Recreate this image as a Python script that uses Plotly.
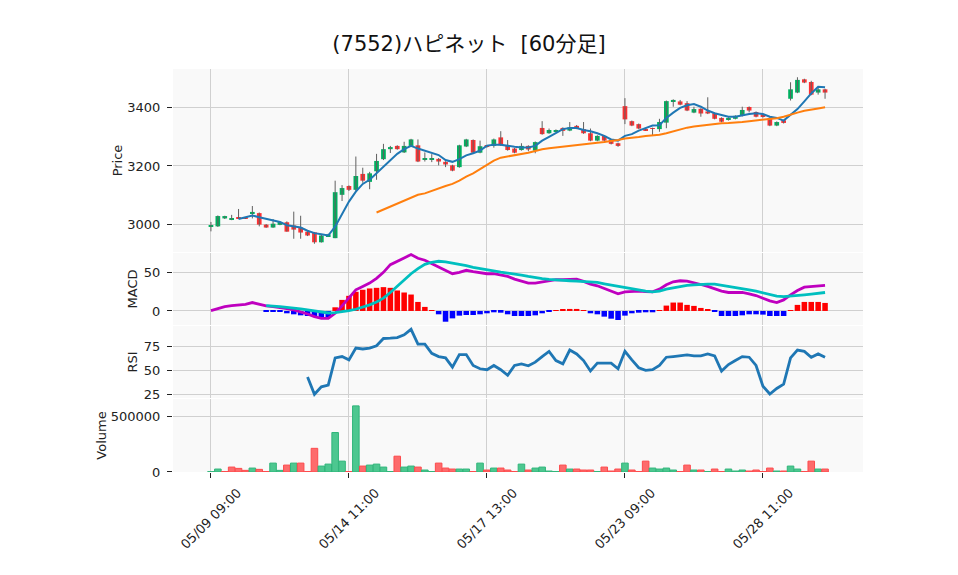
import plotly.graph_objects as go
from plotly.subplots import make_subplots

days = ["05/09", "05/10", "05/13", "05/14", "05/15", "05/16", "05/17", "05/20",
        "05/21", "05/22", "05/23", "05/24", "05/27", "05/28", "05/29"]
hours = ["09:00", "10:00", "11:00", "12:30", "13:00", "14:00"]
categories = [d + " " + h for d in days for h in hours]
tick_labels = ["05/09 09:00", "05/14 11:00", "05/17 13:00", "05/23 09:00", "05/28 11:00"]

open_ = [2993, 2995, 3022, 3017, 3024, 3024, 3037, 3040, 3001, 2991,
         3000, 3009, 2998, 2991, 2977, 2975, 2941, 2962, 2955, 3102,
         3132, 3119, 3173, 3146, 3182, 3223, 3257, 3268, 3246, 3268,
         3270, 3222, 3222, 3224, 3214, 3202, 3196, 3266, 3288, 3245,
         3268, 3268, 3297, 3270, 3259, 3254, 3268, 3252, 3329, 3311,
         3318, 3329, 3320, 3336, 3325, 3311, 3286, 3302, 3288, 3277,
         3403, 3352, 3342, 3325, 3328, 3325, 3347, 3417, 3419, 3413,
         3381, 3394, 3385, 3379, 3363, 3356, 3360, 3370, 3400, 3383,
         3375, 3363, 3337, 3355, 3428, 3449, 3494, 3485, 3449, 3460]
high = [3010, 3032, 3031, 3034, 3054, 3026, 3064, 3042, 3003, 3020,
        3012, 3012, 3045, 3031, 2979, 2976, 2966, 2970, 3150, 3135,
        3134, 3232, 3194, 3180, 3241, 3275, 3268, 3270, 3282, 3292,
        3290, 3246, 3240, 3227, 3216, 3204, 3272, 3292, 3290, 3286,
        3270, 3293, 3318, 3288, 3261, 3277, 3270, 3283, 3352, 3327,
        3324, 3331, 3349, 3339, 3349, 3327, 3304, 3304, 3290, 3279,
        3430, 3354, 3344, 3327, 3330, 3360, 3422, 3426, 3424, 3420,
        3401, 3396, 3433, 3381, 3365, 3365, 3372, 3401, 3402, 3385,
        3377, 3365, 3351, 3357, 3484, 3501, 3496, 3489, 3466, 3462]
low = [2978, 2993, 3020, 3016, 3020, 3020, 3022, 2995, 2990, 2990,
       2999, 2977, 2953, 2953, 2962, 2936, 2940, 2960, 2955, 3081,
       3115, 3115, 3143, 3121, 3153, 3220, 3244, 3255, 3244, 3265,
       3213, 3215, 3213, 3202, 3196, 3182, 3194, 3264, 3243, 3243,
       3262, 3262, 3268, 3252, 3243, 3252, 3250, 3243, 3306, 3309,
       3316, 3302, 3318, 3325, 3309, 3284, 3284, 3284, 3273, 3265,
       3342, 3335, 3325, 3319, 3304, 3316, 3328, 3401, 3406, 3386,
       3379, 3367, 3376, 3358, 3348, 3354, 3358, 3368, 3382, 3365,
       3364, 3335, 3335, 3344, 3422, 3447, 3481, 3440, 3442, 3428]
close = [2997, 3030, 3030, 3023, 3022, 3021, 3044, 3001, 2991, 3004,
         3010, 2977, 2984, 2974, 2964, 2941, 2964, 2968, 3111, 3125,
         3119, 3166, 3150, 3175, 3217, 3257, 3264, 3257, 3268, 3290,
         3215, 3227, 3227, 3215, 3205, 3184, 3270, 3290, 3245, 3267,
         3265, 3290, 3270, 3254, 3245, 3268, 3256, 3281, 3308, 3322,
         3322, 3319, 3331, 3327, 3311, 3286, 3302, 3286, 3275, 3268,
         3358, 3337, 3327, 3321, 3326, 3349, 3420, 3424, 3408, 3388,
         3393, 3378, 3378, 3360, 3350, 3363, 3370, 3390, 3388, 3367,
         3366, 3337, 3349, 3346, 3460, 3492, 3483, 3442, 3460, 3449]
volume = [3000, 26800, 4000, 44600, 32700, 14900, 35700, 23800, 4000, 80400,
          14900, 62500, 80400, 80400, 4000, 214000, 53600, 71400, 357000, 98200,
          4000, 598000, 53600, 62500, 71400, 44600, 4000, 143000, 44600, 53600,
          44600, 17900, 4000, 80400, 35700, 26800, 26800, 26800, 4000, 80400,
          17900, 35700, 35700, 17900, 4000, 71400, 17900, 35700, 44600, 8900,
          4000, 62500, 26800, 26800, 17900, 17900, 4000, 44600, 8900, 26800,
          80400, 17900, 4000, 98200, 35700, 26800, 35700, 17900, 4000, 62500,
          17900, 17900, 4000, 26800, 4000, 26800, 8900, 17900, 8900, 17900,
          4000, 35700, 8900, 8900, 53600, 26800, 4000, 98200, 26800, 26800]
volume_up = [1, 1, 0, 0, 0, 0, 1, 0, 0, 1,
             1, 0, 1, 0, 0, 0, 1, 1, 1, 1,
             0, 1, 0, 1, 1, 1, 1, 0, 1, 1,
             0, 1, 1, 0, 0, 0, 1, 1, 0, 1,
             0, 1, 0, 0, 0, 1, 0, 1, 1, 1,
             1, 0, 1, 0, 0, 0, 1, 0, 0, 0,
             1, 0, 0, 0, 1, 1, 1, 1, 0, 0,
             1, 0, 1, 0, 0, 1, 1, 1, 0, 0,
             0, 0, 1, 0, 1, 1, 0, 0, 1, 0]

ma5 = [None, None, None, None, 3020, 3027, 3032, 3026, 3020, 3016,
       3010, 2999, 2996, 2991, 2980, 2972, 2968, 2964, 2994, 3034,
       3079, 3113, 3139, 3153, 3175, 3200, 3220, 3241, 3257, 3268,
       3259, 3252, 3245, 3237, 3220, 3214, 3223, 3236, 3243, 3252,
       3269, 3272, 3272, 3268, 3265, 3263, 3263, 3268, 3286, 3299,
       3313, 3325, 3329, 3329, 3322, 3318, 3311, 3302, 3290, 3286,
       3302, 3308, 3320, 3329, 3337, 3338, 3363, 3381, 3397, 3406,
       3410, 3401, 3388, 3379, 3372, 3367, 3367, 3372, 3376, 3379,
       3376, 3367, 3363, 3354, 3372, 3393, 3419, 3446, 3469, 3467]
ma25 = [None] * 24 + [
       3042, 3052, 3062, 3072, 3082, 3093,
       3102, 3107, 3116, 3124, 3132, 3139, 3150, 3164, 3175, 3189,
       3204, 3218, 3228, 3232, 3237, 3242, 3245, 3251, 3257, 3260,
       3263, 3265, 3268, 3271, 3274, 3277, 3279, 3281, 3284, 3288,
       3293, 3295, 3298, 3302, 3304, 3306, 3311, 3318, 3324, 3330,
       3334, 3337, 3341, 3344, 3345, 3346, 3347, 3349, 3352, 3354,
       3356, 3359, 3362, 3367, 3375, 3381, 3387, 3390, 3395, 3399]

macd = [0.4, 3.4, 5.6, 6.9, 7.8, 8.6, 10.8, 8.6, 6.5, 5.6,
        4.7, 3.0, 1.3, -0.9, -3.9, -7.3, -9.5, -9.5, -3.0, 6.5,
        17.2, 27.2, 31.5, 35.8, 41.8, 49.6, 59.5, 64.2, 68.1, 72.4,
        67.7, 65.1, 60.8, 56.5, 53.0, 47.8, 49.6, 52.2, 50.4, 48.7,
        47.8, 47.8, 46.1, 44.4, 40.9, 37.9, 35.8, 35.8, 37.5, 38.8,
        40.1, 40.1, 40.9, 40.9, 37.9, 34.5, 32.3, 28.9, 25.0, 22.0,
        24.6, 25.4, 25.4, 25.0, 24.6, 28.0, 33.6, 37.5, 38.8, 38.4,
        36.6, 34.0, 31.5, 28.0, 25.4, 23.7, 23.7, 23.7, 22.0, 19.8,
        16.4, 12.9, 10.8, 14.2, 20.7, 26.3, 30.6, 31.5, 32.8, 32.8]
signal = [None] * 8 + [
        6.9, 6.5,
        5.6, 4.7, 3.9, 2.6, 1.3, 0.0, -1.3, -2.6, -2.2, -1.3,
        0.4, 2.2, 4.7, 7.8, 11.6, 16.4, 23.7, 31.5, 40.1, 47.8,
        54.3, 59.9, 62.5, 63.8, 62.9, 61.6, 59.9, 58.2, 56.0, 54.3,
        52.6, 51.3, 50.0, 48.7, 47.6, 46.1, 44.4, 42.7, 41.4, 40.5,
        39.7, 39.2, 38.8, 38.4, 37.9, 37.5, 36.6, 34.9, 33.2, 31.5,
        29.7, 28.0, 26.3, 25.4, 24.6, 25.4, 28.0, 29.7, 31.5, 32.8,
        33.6, 34.5, 34.5, 34.5, 33.2, 31.5, 30.2, 28.9, 27.2, 25.4,
        23.3, 21.1, 19.0, 18.5, 19.0, 19.8, 20.7, 21.6, 22.8, 23.7]
hist = [None] * 8 + [
        -0.3, -0.8,
        -1.0, -3.0, -4.3, -5.6, -6.5, -7.3, -9.5, -8.2, 4.7, 14.2,
        19.4, 24.6, 27.2, 28.9, 29.7, 30.6, 29.7, 26.3, 23.7, 21.1,
        11.6, 5.2, 0.3, -4.3, -13.8, -9.5, -6.0, -5.2, -5.2, -4.3,
        -3.0, -1.7, -2.2, -4.3, -6.5, -6.5, -6.5, -5.6, -3.0, -1.3,
        0.2, 1.3, 2.6, 2.6, 0.1, -3.0, -4.3, -7.3, -9.9, -11.6,
        -6.0, -3.0, -2.2, -1.7, -1.7, 0.2, 6.9, 10.8, 10.8, 7.8,
        6.5, 3.9, 1.3, -1.3, -6.5, -6.5, -6.5, -5.6, -4.3, -4.3,
        -4.7, -6.5, -6.5, -6.5, 0.2, 7.8, 11.6, 11.6, 11.6, 10.3]
rsi = [None] * 14 + [
        43.1, 24.7, 32.6, 34.4, 63.2, 64.6,
        61.1, 73.6, 72.6, 73.6, 76.0, 83.7, 84.0, 84.7, 87.5, 93.4,
        77.8, 77.8, 68.0, 64.6, 63.2, 53.5, 66.7, 66.7, 55.2, 51.7,
        50.7, 55.2, 50.7, 44.8, 55.2, 56.9, 54.9, 58.7, 64.6, 70.1,
        60.4, 56.9, 71.5, 67.4, 60.4, 49.3, 57.6, 57.6, 57.6, 51.7,
        70.1, 61.1, 52.8, 50.0, 50.7, 55.2, 63.9, 64.6, 65.6, 66.3,
        65.3, 65.3, 67.4, 65.3, 49.3, 56.2, 60.4, 64.6, 63.9, 55.2,
        33.3, 25.0, 30.9, 35.4, 63.2, 71.5, 70.1, 63.9, 67.4, 63.9]

UP = "#00b060"
DOWN = "#fe3032"
WICK = "#606060"
VOL_UP = "#4dc790"
VOL_DOWN = "#fd6b6c"
VOL_UP_EDGE = "#2fb57a"
VOL_DOWN_EDGE = "#fd4a4c"

fig = make_subplots(rows=4, cols=1, shared_xaxes=True)

# candle wicks
wx, wy = [], []
for c, h, l in zip(categories, high, low):
    wx += [c, c, None]
    wy += [l, h, None]
fig.add_trace(go.Scatter(x=wx, y=wy, mode="lines", line=dict(color=WICK, width=1),
                         hoverinfo="skip", showlegend=False), row=1, col=1)
body_base = [min(o, c) for o, c in zip(open_, close)]
body_len = [max(abs(c - o), 1.5) for o, c in zip(open_, close)]
body_col = [UP if c >= o else DOWN for o, c in zip(open_, close)]
fig.add_trace(go.Bar(x=categories, y=body_len, base=body_base, width=0.68,
                     marker=dict(color=body_col, line=dict(width=0)),
                     showlegend=False), row=1, col=1)
fig.add_trace(go.Scatter(x=categories, y=ma5, mode="lines", line=dict(color="#1f77b4", width=2),
                         showlegend=False), row=1, col=1)
fig.add_trace(go.Scatter(x=categories, y=ma25, mode="lines", line=dict(color="#ff7f0e", width=2),
                         showlegend=False), row=1, col=1)

# MACD
hist_col = ["red" if (v is not None and v >= 0) else "blue" for v in hist]
fig.add_trace(go.Bar(x=categories, y=hist, width=0.8, marker=dict(color=hist_col, line=dict(width=0)),
                     showlegend=False), row=2, col=1)
fig.add_trace(go.Scatter(x=categories, y=macd, mode="lines", line=dict(color="#bf00bf", width=2.8),
                         showlegend=False), row=2, col=1)
fig.add_trace(go.Scatter(x=categories, y=signal, mode="lines", line=dict(color="#00bfbf", width=2.8),
                         showlegend=False), row=2, col=1)

# RSI
fig.add_trace(go.Scatter(x=categories, y=rsi, mode="lines", line=dict(color="#1f77b4", width=2.8),
                         showlegend=False), row=3, col=1)

# Volume
vfill = [VOL_UP if u else VOL_DOWN for u in volume_up]
vedge = [VOL_UP_EDGE if u else VOL_DOWN_EDGE for u in volume_up]
fig.add_trace(go.Bar(x=categories, y=volume, width=0.95,
                     marker=dict(color=vfill, line=dict(color=vedge, width=1)),
                     showlegend=False), row=4, col=1)

grid = "#d0d0d0"
bg = "#f9f9f9"
fig.update_layout(
    template="none",
    width=958, height=575,
    margin=dict(l=165, r=103, t=61, b=111, autoexpand=False),
    paper_bgcolor="white", plot_bgcolor=bg,
    font=dict(family="DejaVu Sans, Noto Sans CJK JP, sans-serif", size=13, color="#222222"),
    title=dict(text="(7552)ハピネット\u00a0\u00a0[60分足]", x=461 / 958, xanchor="center",
               y=1 - 36 / 575, yanchor="middle", font=dict(size=21, color="#111111")),
    showlegend=False,
    barmode="overlay",
)
domains = [[0.5459, 1.0], [0.3648, 0.5434], [0.1836, 0.3623], [0.0, 0.1811]]
titles = ["Price", "MACD", "RSI", "Volume"]
ranges = [[2908, 3529], [-18, 74.4], [20.8, 96.9], [0, 660000]]
tickvals_y = [[3000, 3200, 3400], [0, 50], [25, 50, 75], [0, 500000]]
ticktext_y = [["3000", "3200", "3400"], ["0", "50"], ["25", "50", "75"], ["0", "500000"]]
for i in range(4):
    fig.update_yaxes(row=i + 1, col=1, domain=domains[i], title_text=titles[i],
                     range=ranges[i], tickvals=tickvals_y[i], ticktext=ticktext_y[i],
                     showgrid=True, gridcolor=grid,
                     gridwidth=1, zeroline=False, ticks="outside", ticklen=5,
                     ticklabelstandoff=4,
                     tickcolor="#222222", title_font=dict(size=13), automargin=False,
                     showline=False)
    fig.update_xaxes(row=i + 1, col=1, type="category", range=[-5.5, 94.5],
                     tickmode="array", tickvals=tick_labels,
                     showgrid=True, gridcolor=grid, gridwidth=1, zeroline=False,
                     showticklabels=False, ticks="outside" if i == 3 else "",
                     ticklen=5, tickcolor="#222222", automargin=False,
                     showline=False)

# rotated, centred date labels under the ticks
for lab in tick_labels:
    fig.add_annotation(x=lab, xref="x4", y=0, yref="paper", text=lab, textangle=-45,
                       showarrow=False, xanchor="center", yanchor="top", yshift=-10,
                       font=dict(size=13, color="#222222"))

fig.write_html("out.html")
